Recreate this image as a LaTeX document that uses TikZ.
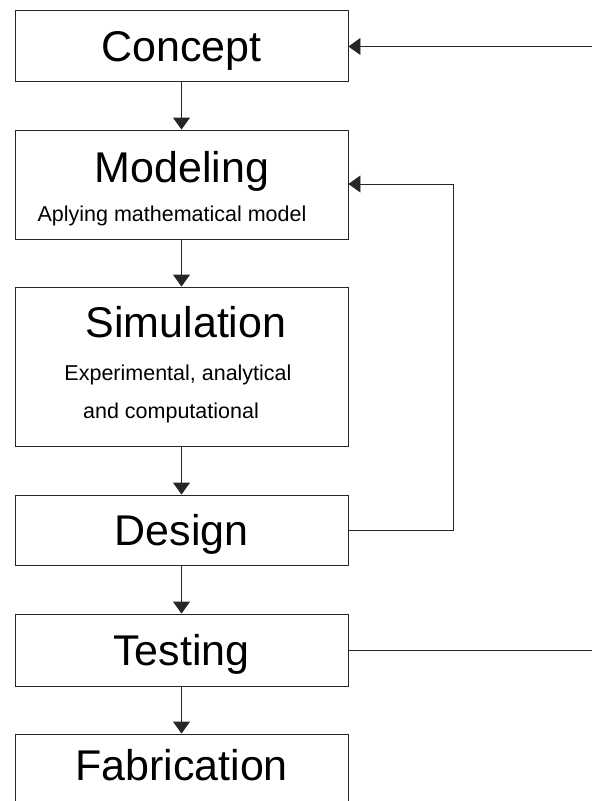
\documentclass[tikz,border=0pt]{standalone}
\usepackage{fontspec}
\setmainfont{Liberation Sans}
\usepackage{tikz}
\usetikzlibrary{arrows.meta}

\tikzset{
  stage/.style={draw=black!85,line width=0.9pt,minimum width=333pt,inner sep=0pt,
    text height=31pt,text depth=0pt,font=\fontsize{43}{46}\selectfont},
  title/.style={inner sep=0pt,font=\fontsize{43}{46}\selectfont},
  note/.style={inner sep=0pt,font=\fontsize{21.5}{24}\selectfont},
}

\begin{document}
\begin{tikzpicture}[x=1pt,y=1pt]
\useasboundingbox (0,0) rectangle (592,-801);
\clip (0,0) rectangle (592,-801);
\begin{scope}[>={Triangle[length=12pt,width=17pt]},line width=0.9pt,draw=black!85]
    % the six stages
    \node[stage,minimum height=71pt] (concept) at (181.5,-45.5) {Concept};
    \node[stage,minimum height=109pt] (modeling) at (181.5,-184.5) {};
    \node[title,anchor=base] (modtitle) at (182,-182) {Modeling};
    \node[note,anchor=base] (modnote) at (172,-221) {Aplying mathematical model};

    \node[stage,minimum height=159pt] (simulation) at (181.5,-366.5) {};
    \node[title,anchor=base] (simtitle) at (186,-337) {Simulation};
    \node[note,anchor=base] (simnote1) at (178,-380) {Experimental, analytical};
    \node[note,anchor=base] (simnote2) at (171,-418) {and computational};

    \node[stage,minimum height=70pt] (design) at (181.5,-530) {Design};
    \node[stage,minimum height=72pt] (testing) at (181.5,-650) {Testing};
    \node[stage,minimum height=71pt,text depth=10pt] (fabrication) at (181.5,-769.5) {Fabrication};

    \draw[->] (concept) -- (modeling);
    \draw[->] (modeling) -- (simulation);
    \draw[->] (simulation) -- (design);
    \draw[->] (design) -- (testing);
    \draw[->] (testing) -- (fabrication);

    % feedback loops
    \coordinate (backmodel) at (453,-184);
    \coordinate (backconcept) at (620,-46.5);
    \draw[->] (design.east) -| (backmodel) -- (modeling.east |- backmodel);
    \draw[->] (testing.east) -| (backconcept) -- (concept.east |- backconcept);
\end{scope}
\end{tikzpicture}
\end{document}
